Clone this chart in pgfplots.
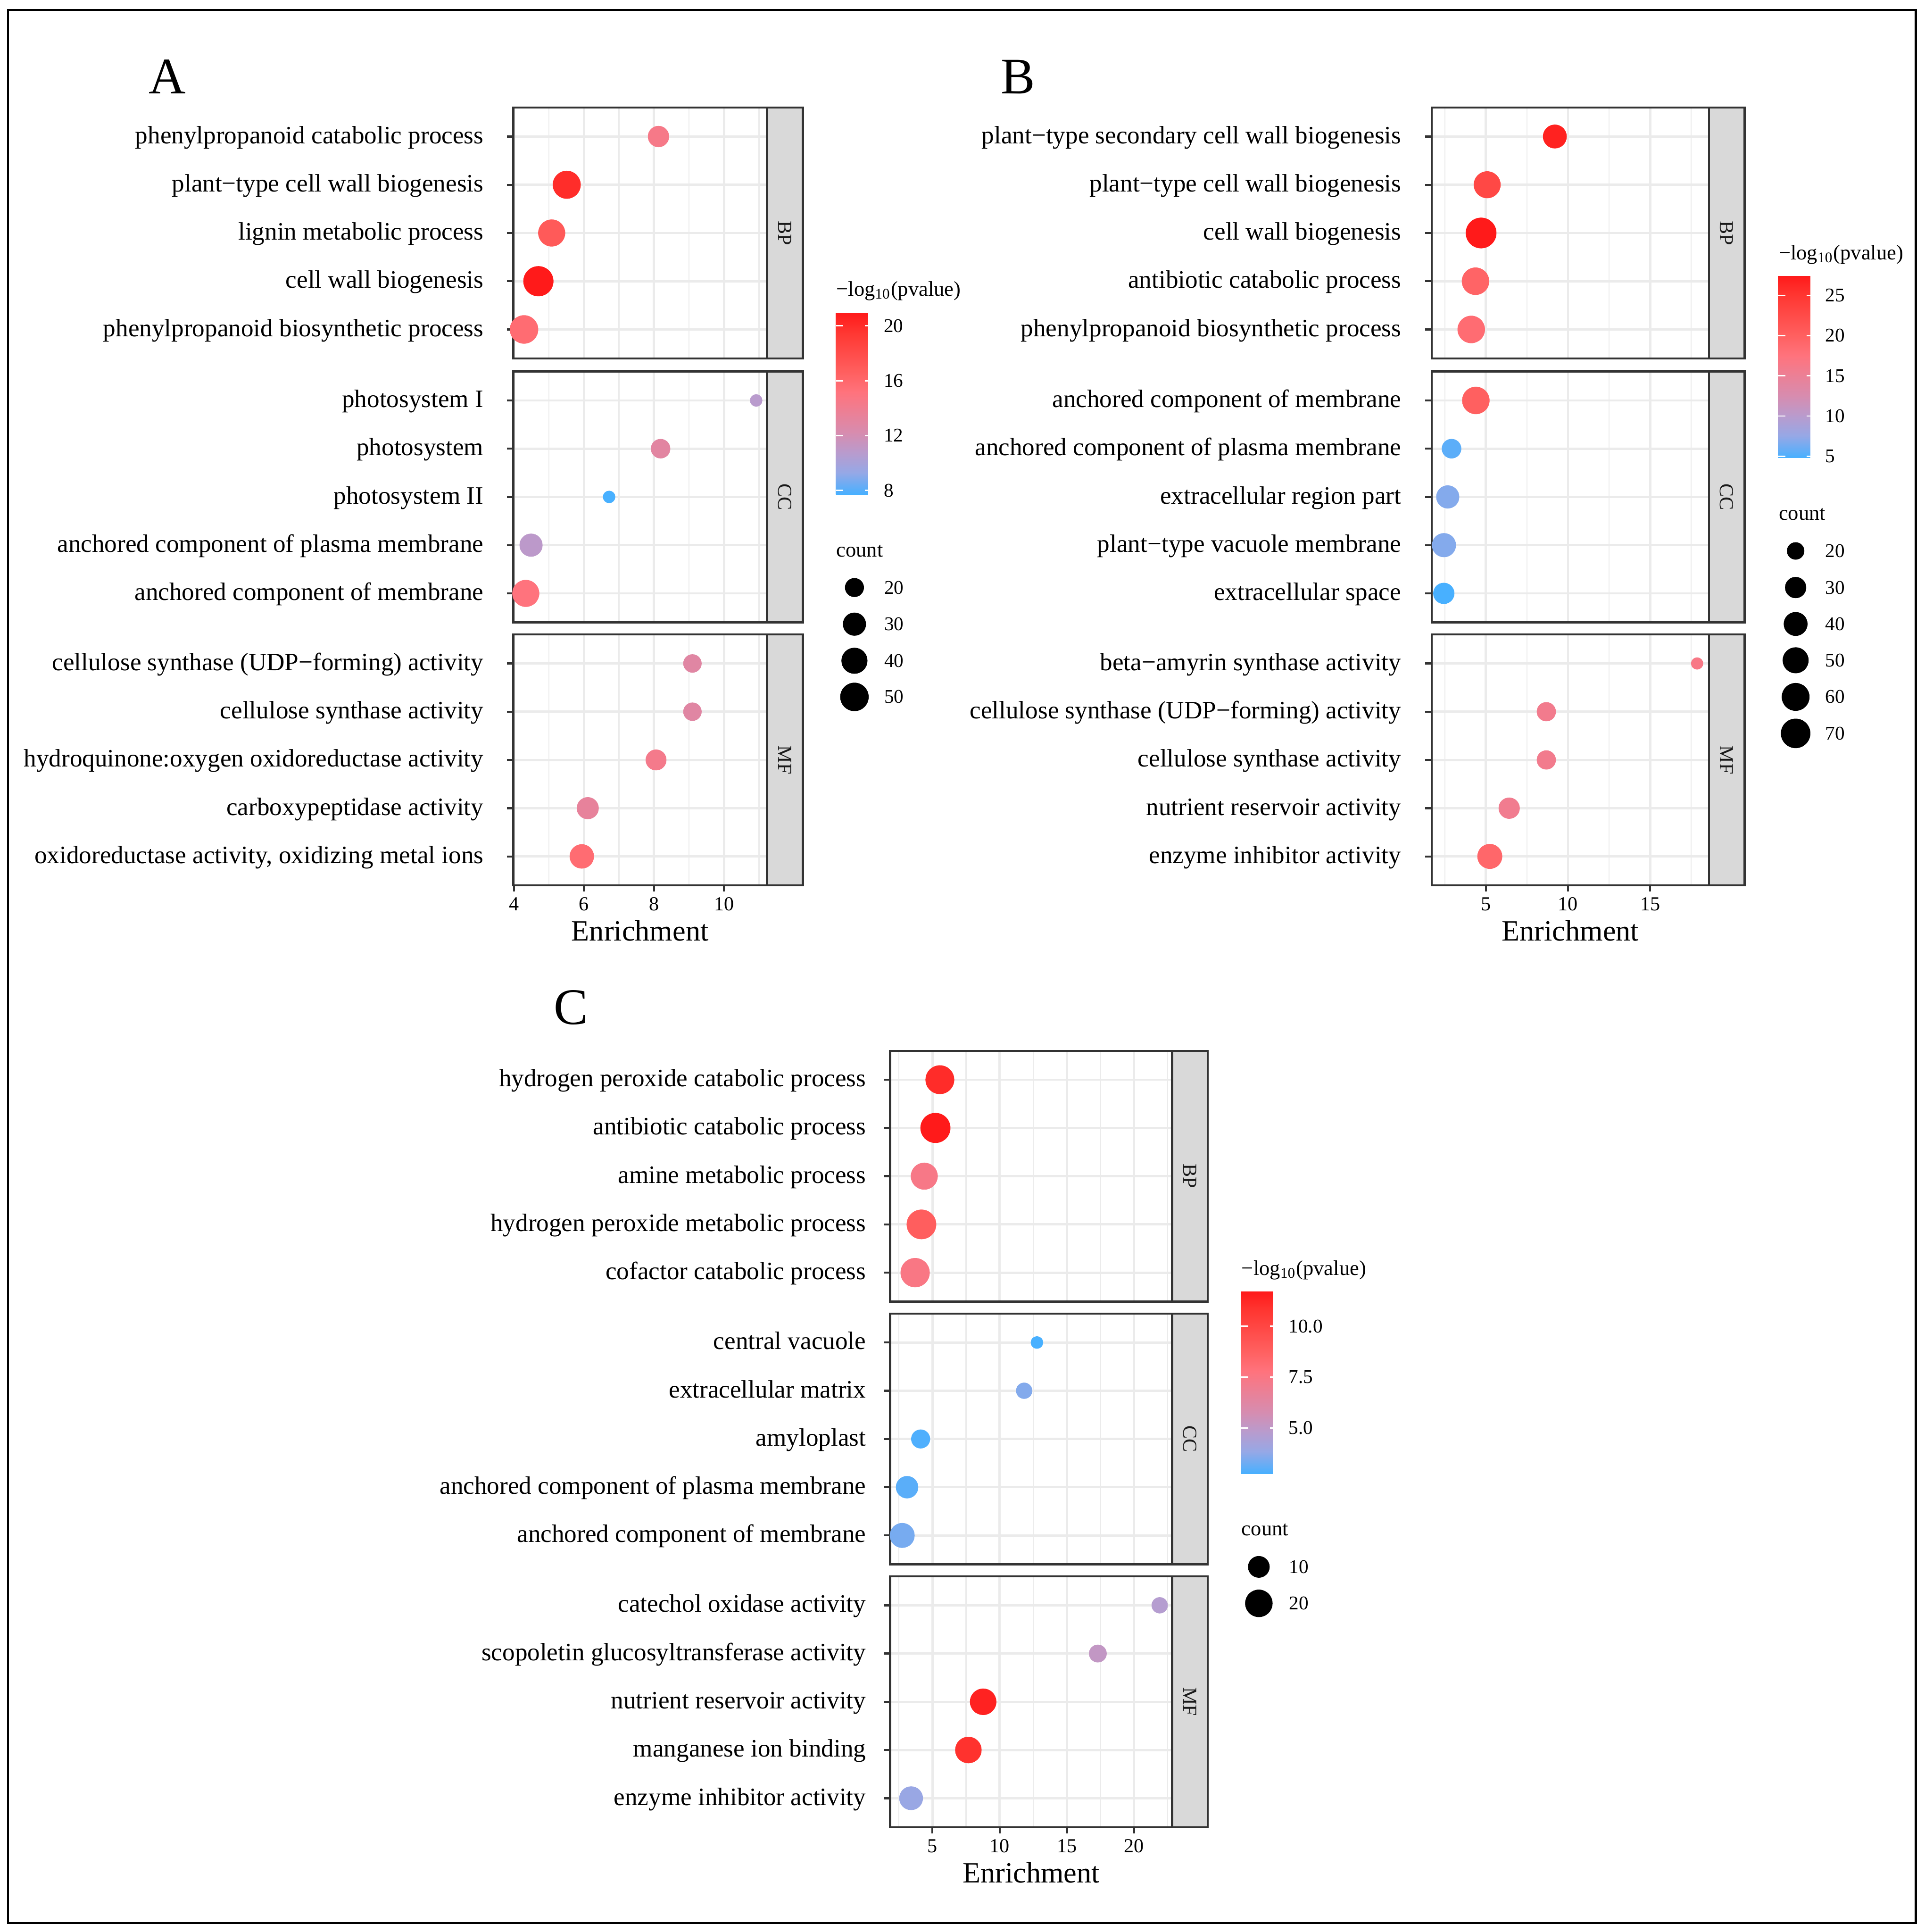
\documentclass[border=0pt]{standalone}
\usepackage{pgfplots}
\pgfplotsset{compat=1.18}
\usepackage{fontspec}
\setmainfont{Liberation Serif}
\definecolor{grey20}{HTML}{333333}
\definecolor{grey10}{HTML}{1A1A1A}
\definecolor{grey92}{HTML}{EBEBEB}
\definecolor{grey85}{HTML}{D9D9D9}
\pgfplotsset{colormap={gg}{rgb255(0pt)=(72,176,255) rgb255(12pt)=(150,168,230) rgb255(23pt)=(185,155,205) rgb255(34pt)=(215,140,175) rgb255(45pt)=(235,128,150) rgb255(56pt)=(255,115,125) rgb255(67pt)=(255,96,96) rgb255(89pt)=(255,55,50) rgb255(100pt)=(255,26,26)}}
\pgfplotsset{
 facet/.style={
  scale only axis, height=111pt, anchor=south west,
  ymin=0.4, ymax=5.6, y dir=reverse, ytick={1,2,3,4,5},
  tick align=outside, xtick pos=bottom, ytick pos=left,
  major tick length=2.8pt, minor tick length=0pt,
  grid=both,
  major grid style={draw=grey92, line width=1pt},
  minor grid style={draw=grey92, line width=0.5pt},
  axis line style={draw=grey20, line width=0.9pt},
  tick style={draw=grey20, line width=0.9pt},
  yticklabel style={font=\fontsize{11.1}{13}\selectfont, inner sep=0pt, text height=8.3pt, text depth=2.2pt},
  xticklabel style={font=\fontsize{8.8}{10}\selectfont, inner sep=0pt, yshift=-2.4pt},
  colormap name=gg,
 },
 top facet/.style={xticklabels={}, xtick style={draw=none}},
 dots/.style={scatter, only marks, mark=*, point meta=explicit,
   scatter/use mapped color={draw=mapped color, fill=mapped color},
   mark options={line width=0.2pt},
   visualization depends on={\thisrow{cnt} \as \cnt}},
 keydots/.style={scatter, only marks, mark=*, point meta=explicit,
   scatter/use mapped color={draw=black, fill=black},
   mark options={line width=0.2pt},
   visualization depends on={\thisrow{cnt} \as \cnt}},
 sizeA/.style={scatter/@pre marker code/.append style={/tikz/mark size={2.65+0.592*sqrt(max(\cnt-14,0))}}},
 sizeB/.style={scatter/@pre marker code/.append style={/tikz/mark size={2.6+0.517*sqrt(max(\cnt-15,0))}}},
 sizeC/.style={scatter/@pre marker code/.append style={/tikz/mark size={2.67+0.829*sqrt(max(\cnt-4,0))}}},
 cbar/.style={
  scale only axis, axis on top,
  axis line style={draw=none},
  tick align=inside, ytick pos=both, yticklabel pos=right,
  major tick length=3.3pt,
  tick style={draw=white, line width=0.6pt},
  yticklabel style={font=\fontsize{8.6}{10}\selectfont, inner sep=0pt, xshift=4.8pt},
 },
 pA/.style={facet, width=112.26pt, xmin=3.983, xmax=11.226, xtick={4,6,8,10}, minor xtick={5,7,9,11}, point meta min=7.70, point meta max=20.96, yticklabel style={xshift=-10.2pt}},
 pB/.style={facet, width=122.74pt, xmin=1.70, xmax=18.58, xtick={5,10,15}, minor xtick={2.5,7.5,12.5,17.5}, point meta min=4.8, point meta max=27.45, yticklabel style={xshift=-10.5pt}},
 pC/.style={facet, width=124.8pt, xmin=1.85, xmax=22.82, xtick={5,10,15,20}, minor xtick={2.5,7.5,12.5,17.5,22.5}, point meta min=2.75, point meta max=11.73, yticklabel style={xshift=-7.7pt}},
}
\begin{document}
\begin{tikzpicture}
\fill[white] (0pt,0pt) rectangle (852pt,-855pt);
\draw[line width=0.9pt, black] (3.6pt,-4.4pt) rectangle (848pt,-851pt);

% ---------------- Panel A ----------------
\begin{axis}[pA, top facet, at={(227.2pt,-158.6pt)},
 yticklabels={phenylpropanoid catabolic process, plant−type cell wall biogenesis, lignin metabolic process, cell wall biogenesis, phenylpropanoid biosynthetic process}]
\addplot[dots, sizeA] table[x=x, y=y, meta=lp] {
y x lp cnt
1 8.13 14.5 25
2 5.51 20.0 48
3 5.08 17.0 44
4 4.70 20.96 58
5 4.29 15.7 50
};
\end{axis}
\begin{axis}[pA, top facet, at={(227.2pt,-275.4pt)},
 yticklabels={photosystem I, photosystem, photosystem II, anchored component of plasma membrane, anchored component of membrane}]
\addplot[dots, sizeA] table[x=x, y=y, meta=lp] {
y x lp cnt
1 10.92 10.75 14
2 8.19 13.0 21
3 6.72 7.70 14
4 4.49 10.9 30
5 4.34 15.1 44
};
\end{axis}
\begin{axis}[pA, at={(227.2pt,-391.8pt)}, xticklabels={4,6,8,10},
 yticklabels={cellulose synthase (UDP−forming) activity, cellulose synthase activity, hydroquinone:oxygen oxidoreductase activity, carboxypeptidase activity, {oxidoreductase activity, oxidizing metal ions}}]
\addplot[dots, sizeA] table[x=x, y=y, meta=lp] {
y x lp cnt
1 9.10 12.9 19
2 9.10 12.9 19
3 8.06 14.3 24
4 6.11 13.4 27
5 5.94 15.7 34
};
\end{axis}

% ---------------- Panel B ----------------
\begin{axis}[pB, top facet, at={(633.7pt,-158.6pt)},
 yticklabels={plant−type secondary cell wall biogenesis, plant−type cell wall biogenesis, cell wall biogenesis, antibiotic catabolic process, phenylpropanoid biosynthetic process}]
\addplot[dots, sizeB] table[x=x, y=y, meta=lp] {
y x lp cnt
1 9.20 26.8 40
2 5.08 22.9 55
3 4.71 27.45 78
4 4.37 19.5 58
5 4.11 18.4 58
};
\end{axis}
\begin{axis}[pB, top facet, at={(633.7pt,-275.4pt)},
 yticklabels={anchored component of membrane, anchored component of plasma membrane, extracellular region part, plant−type vacuole membrane, extracellular space}]
\addplot[dots, sizeB] table[x=x, y=y, meta=lp] {
y x lp cnt
1 4.39 20.0 58
2 2.91 5.5 25
3 2.68 6.9 37
4 2.45 6.9 41
5 2.44 4.8 30
};
\end{axis}
\begin{axis}[pB, at={(633.7pt,-391.8pt)}, xticklabels={5,10,15},
 yticklabels={beta−amyrin synthase activity, cellulose synthase (UDP−forming) activity, cellulose synthase activity, nutrient reservoir activity, enzyme inhibitor activity}]
\addplot[dots, sizeB] table[x=x, y=y, meta=lp] {
y x lp cnt
1 17.86 16.6 15
2 8.68 15.9 24
3 8.68 15.9 24
4 6.42 15.7 30
5 5.24 19.1 45
};
\end{axis}

% ---------------- Panel C ----------------
\begin{axis}[pC, top facet, at={(394pt,-576pt)},
 yticklabels={hydrogen peroxide catabolic process, antibiotic catabolic process, amine metabolic process, hydrogen peroxide metabolic process, cofactor catabolic process}]
\addplot[dots, sizeC] table[x=x, y=y, meta=lp] {
y x lp cnt
1 5.55 11.1 23
2 5.22 11.73 26
3 4.39 7.4 19
4 4.18 8.85 25
5 3.71 7.5 24
};
\end{axis}
\begin{axis}[pC, top facet, at={(394pt,-692.3pt)},
 yticklabels={central vacuole, extracellular matrix, amyloplast, anchored component of plasma membrane, anchored component of membrane}]
\addplot[dots, sizeC] table[x=x, y=y, meta=lp] {
y x lp cnt
1 12.77 2.75 4
2 11.82 3.56 5
3 4.12 2.85 7
4 3.11 3.0 11
5 2.75 3.4 15
};
\end{axis}
\begin{axis}[pC, at={(394pt,-808.6pt)}, xticklabels={5,10,15,20},
 yticklabels={catechol oxidase activity, scopoletin glucosyltransferase activity, nutrient reservoir activity, manganese ion binding, enzyme inhibitor activity}]
\addplot[dots, sizeC] table[x=x, y=y, meta=lp] {
y x lp cnt
1 21.90 4.7 5
2 17.30 5.1 6
3 8.77 11.45 18
4 7.67 10.9 18
5 3.41 3.9 13
};
\end{axis}

% ---------------- strips ----------------
\tikzset{strip/.style={fill=grey85, draw=grey20, line width=0.9pt}, striptext/.style={rotate=-90, font=\fontsize{8.8}{10}\selectfont, text=grey10}}
\draw[strip] (339.46pt,-47.6pt) rectangle (355.4pt,-158.6pt);
\draw[strip] (339.46pt,-164.4pt) rectangle (355.4pt,-275.4pt);
\draw[strip] (339.46pt,-280.8pt) rectangle (355.4pt,-391.8pt);
\node[striptext] at (347.43pt,-103.1pt) {BP};
\node[striptext] at (347.43pt,-219.9pt) {CC};
\node[striptext] at (347.43pt,-336.3pt) {MF};
\draw[strip] (756.44pt,-47.6pt) rectangle (772.2pt,-158.6pt);
\draw[strip] (756.44pt,-164.4pt) rectangle (772.2pt,-275.4pt);
\draw[strip] (756.44pt,-280.8pt) rectangle (772.2pt,-391.8pt);
\node[striptext] at (764.32pt,-103.1pt) {BP};
\node[striptext] at (764.32pt,-219.9pt) {CC};
\node[striptext] at (764.32pt,-336.3pt) {MF};
\draw[strip] (518.8pt,-465pt) rectangle (534.6pt,-576pt);
\draw[strip] (518.8pt,-581.3pt) rectangle (534.6pt,-692.3pt);
\draw[strip] (518.8pt,-697.6pt) rectangle (534.6pt,-808.6pt);
\node[striptext] at (526.7pt,-520.5pt) {BP};
\node[striptext] at (526.7pt,-636.8pt) {CC};
\node[striptext] at (526.7pt,-753.1pt) {MF};

% ---------------- colorbars ----------------
\begin{axis}[at={(370pt,-218.8pt)}, anchor=south west, scale only axis, width=16.2pt, height=80.4pt,
 xmin=0, xmax=1, ymin=0, ymax=1, axis line style={draw=none}, xtick=\empty, ytick=\empty,
 colormap name=gg, point meta min=7.70, point meta max=20.96,
 colorbar, colorbar shift/.style={},
 colorbar style={cbar, at={(parent axis.south west)}, anchor=south west, width=16.2pt, height=80.4pt,
   ytick={8,12,16,20}, yticklabels={8,12,16,20}}]
\addplot[draw=none] coordinates {(0,0)};
\end{axis}
\begin{axis}[at={(787pt,-202.6pt)}, anchor=south west, scale only axis, width=16pt, height=80.6pt,
 xmin=0, xmax=1, ymin=0, ymax=1, axis line style={draw=none}, xtick=\empty, ytick=\empty,
 colormap name=gg, point meta min=4.8, point meta max=27.45,
 colorbar, colorbar shift/.style={},
 colorbar style={cbar, at={(parent axis.south west)}, anchor=south west, width=16pt, height=80.6pt,
   ytick={5,10,15,20,25}, yticklabels={5,10,15,20,25}}]
\addplot[draw=none] coordinates {(0,0)};
\end{axis}
\begin{axis}[at={(549.2pt,-652.12pt)}, anchor=south west, scale only axis, width=16.2pt, height=80.72pt,
 xmin=0, xmax=1, ymin=0, ymax=1, axis line style={draw=none}, xtick=\empty, ytick=\empty,
 colormap name=gg, point meta min=2.75, point meta max=11.73,
 colorbar, colorbar shift/.style={},
 colorbar style={cbar, at={(parent axis.south west)}, anchor=south west, width=16.2pt, height=80.72pt,
   ytick={5,7.5,10}, yticklabels={5.0,7.5,10.0}}]
\addplot[draw=none] coordinates {(0,0)};
\end{axis}

% ---------------- size legend keys ----------------
\begin{axis}[at={(0pt,-855pt)}, anchor=south west, scale only axis, width=852pt, height=855pt,
 xmin=0, xmax=4260, ymin=0, ymax=4275, y dir=reverse, hide axis, clip=false,
 colormap name=gg, point meta min=0, point meta max=1]
\addplot[keydots, sizeA] table[x=x, y=y, meta=m] {
x y cnt m
1891 1300 20 0
1891 1381 30 0
1891 1462 40 0
1891 1542 50 0
};
\addplot[keydots, sizeB] table[x=x, y=y, meta=m] {
x y cnt m
3974 1219 20 0
3974 1300 30 0
3974 1380.6 40 0
3974 1461 50 0
3974 1542 60 0
3974 1622.7 70 0
};
\addplot[keydots, sizeC] table[x=x, y=y, meta=m] {
x y cnt m
2786 3467 10 0
2786 3547.7 20 0
};
\end{axis}

% ---------------- texts ----------------
\tikzset{plab/.style={anchor=base, font=\fontsize{22.7}{26}\selectfont},
 xlab/.style={anchor=base, font=\fontsize{13}{15}\selectfont},
 ltitle/.style={anchor=base west, inner sep=0pt, font=\fontsize{9.3}{11}\selectfont},
 ltext/.style={anchor=west, inner sep=0pt, font=\fontsize{8.6}{10}\selectfont}}
\node[plab] at (74pt,-41.34pt) {A};
\node[plab] at (450.6pt,-41.34pt) {B};
\node[plab] at (252.8pt,-453.2pt) {C};
\node[xlab] at (283.3pt,-416.34pt) {Enrichment};
\node[xlab] at (695.07pt,-416.34pt) {Enrichment};
\node[xlab] at (456.4pt,-833.14pt) {Enrichment};

\node[ltitle] at (370pt,-131pt) {−log\textsubscript{10}(pvalue)};
\node[ltitle] at (370pt,-246.4pt) {count};
\node[ltext] at (391.2pt,-260pt) {20};
\node[ltext] at (391.2pt,-276.2pt) {30};
\node[ltext] at (391.2pt,-292.4pt) {40};
\node[ltext] at (391.2pt,-308.4pt) {50};

\node[ltitle] at (787.2pt,-115pt) {−log\textsubscript{10}(pvalue)};
\node[ltitle] at (787.2pt,-230.2pt) {count};
\node[ltext] at (807.8pt,-243.8pt) {20};
\node[ltext] at (807.8pt,-260pt) {30};
\node[ltext] at (807.8pt,-276.12pt) {40};
\node[ltext] at (807.8pt,-292.2pt) {50};
\node[ltext] at (807.8pt,-308.4pt) {60};
\node[ltext] at (807.8pt,-324.54pt) {70};

\node[ltitle] at (549.4pt,-564.4pt) {−log\textsubscript{10}(pvalue)};
\node[ltitle] at (549.4pt,-679.52pt) {count};
\node[ltext] at (570.4pt,-693.4pt) {10};
\node[ltext] at (570.4pt,-709.54pt) {20};

\pgfresetboundingbox
\useasboundingbox (0pt,0pt) rectangle (852pt,-855pt);
\end{tikzpicture}
\end{document}
